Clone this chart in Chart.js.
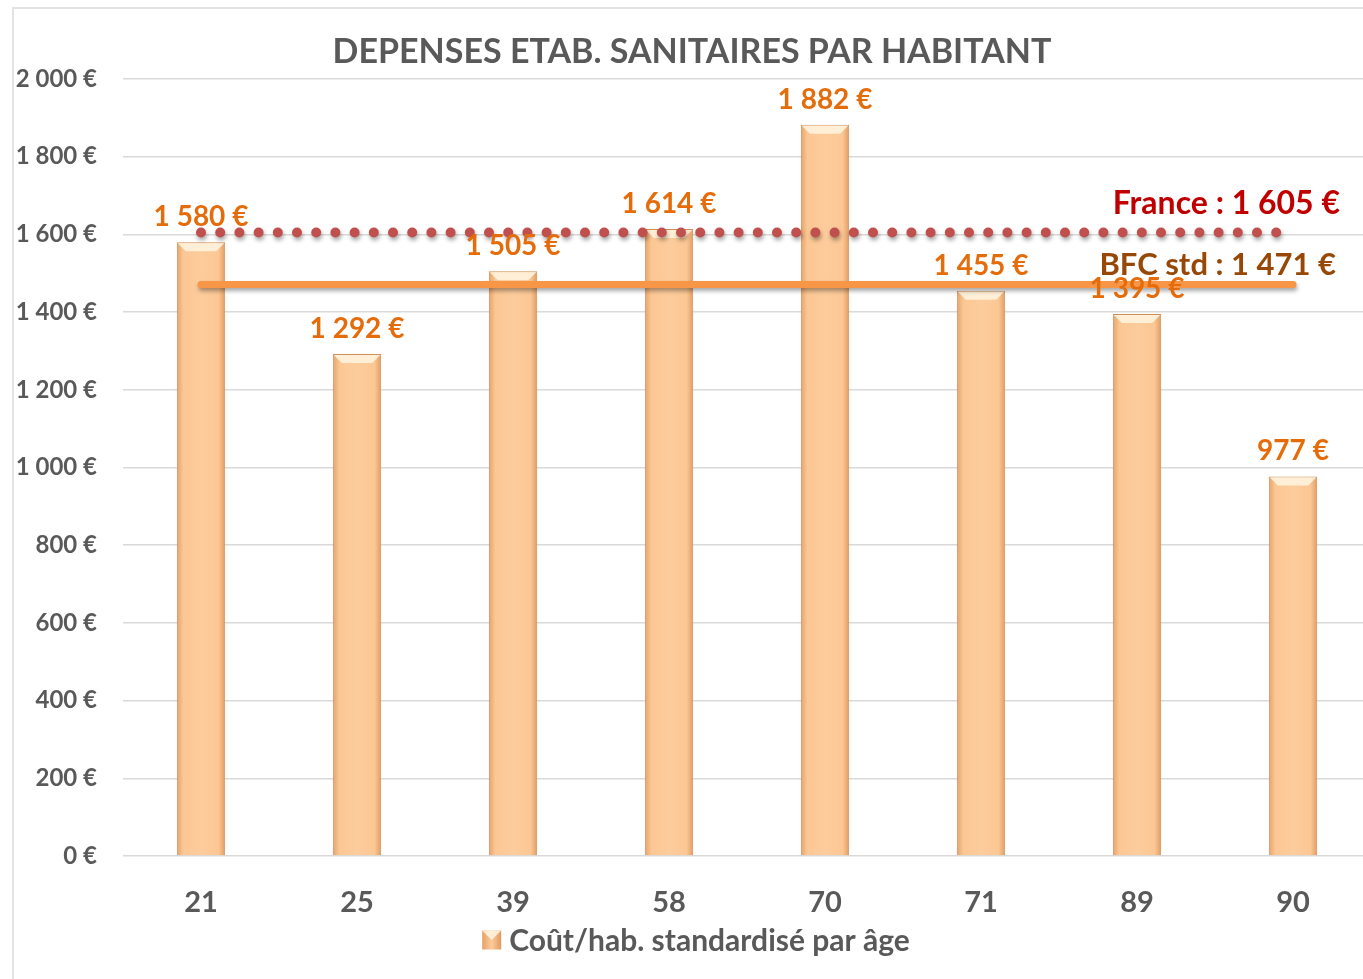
<!DOCTYPE html>
<html>
<head>
<meta charset="utf-8">
<script src="https://cdn.jsdelivr.net/npm/chart.js@4.4.1/dist/chart.umd.min.js"></script>
<style>
  html, body { margin: 0; padding: 0; overflow: hidden; background: #fff; }
  #frame { position: absolute; left: 12px; top: 7px; width: 1400px; height: 1000px; border: 2px solid #e3e3e3; box-sizing: border-box; }
  #chart { position: absolute; left: 0; top: 0; }
</style>
</head>
<body>
<div id="frame"></div>
<canvas id="chart" width="1371" height="979"></canvas>
<script>
const departements = ['21', '25', '39', '58', '70', '71', '89', '90'];
const coutParHabitant = [1580, 1292, 1505, 1614, 1882, 1455, 1395, 977];
const franceValue = 1605;
const bfcValue = 1471;
const yTicks = [0, 200, 400, 600, 800, 1000, 1200, 1400, 1600, 1800, 2000];

const FONT = 'Lato, "Open Sans", sans-serif';
const GRAY = '#595959';

function euro(n) {
  return n.toString().replace(/\B(?=(\d{3})+(?!\d))/g, ' ') + ' €';
}

function barFill(context) {
  const chart = context.chart;
  if (!chart.chartArea || !chart.scales.x) return '#fcc793';
  const x = chart.scales.x.getPixelForValue(context.dataIndex);
  const w = 49;
  const g = chart.ctx.createLinearGradient(x - w / 2, 0, x + w / 2, 0);
  g.addColorStop(0, '#e4a168');
  g.addColorStop(0.14, '#fbc794');
  g.addColorStop(0.5, '#fdcc9c');
  g.addColorStop(0.86, '#fbc794');
  g.addColorStop(1, '#e09a5f');
  return g;
}

// shadows under the reference lines
const lineShadow = {
  id: 'lineShadow',
  beforeDatasetDraw(chart, args) {
    if (args.meta.type !== 'line') return;
    const ctx = chart.ctx;
    ctx.save();
    ctx.shadowColor = 'rgba(0,0,0,0.35)';
    ctx.shadowBlur = 4;
    ctx.shadowOffsetY = 3;
    ctx.shadowOffsetX = 1;
  },
  afterDatasetDraw(chart, args) {
    if (args.meta.type !== 'line') return;
    chart.ctx.restore();
  }
};

// bevel at the top of each bar
const barBevel = {
  id: 'barBevel',
  afterDatasetDraw(chart, args) {
    if (args.meta.type !== 'bar') return;
    const ctx = chart.ctx;
    args.meta.data.forEach(el => {
      const l = el.x - el.width / 2 + 1, r = el.x + el.width / 2 - 1, t = el.y + 1;
      ctx.save();
      ctx.fillStyle = 'rgba(255,243,222,0.9)';
      ctx.beginPath();
      ctx.moveTo(l, t);
      ctx.lineTo(r, t);
      ctx.lineTo(r - 8, t + 8);
      ctx.lineTo(l + 8, t + 8);
      ctx.closePath();
      ctx.fill();
      ctx.restore();
    });
  }
};

const texts = {
  id: 'texts',
  afterDraw(chart) {
    const ctx = chart.ctx;
    const area = chart.chartArea;
    const y = chart.scales.y;
    const cx = 692;
    ctx.save();
    // title
    ctx.fillStyle = GRAY;
    ctx.font = 'bold 34px ' + FONT;
    ctx.textAlign = 'center';
    ctx.textBaseline = 'middle';
    ctx.fillText('DEPENSES ETAB. SANITAIRES PAR HABITANT', cx, 52);

    // value labels
    ctx.fillStyle = '#e46c0a';
    ctx.font = 'bold 28px ' + FONT;
    chart.getDatasetMeta(0).data.forEach((el, i) => {
      ctx.fillText(euro(coutParHabitant[i]), el.x, el.y - 25);
    });

    // reference line labels
    ctx.textAlign = 'right';
    ctx.font = 'bold 32px ' + FONT;
    ctx.fillStyle = '#c00000';
    ctx.fillText('France : ' + euro(franceValue), area.right - 31, y.getPixelForValue(franceValue) - 29);
    ctx.fillStyle = '#974806';
    ctx.font = 'bold 31px ' + FONT;
    ctx.fillText('BFC std : ' + euro(bfcValue), area.right - 35, y.getPixelForValue(bfcValue) - 20);

    // legend
    const label = chart.data.datasets[0].label;
    ctx.font = 'bold 30px ' + FONT;
    const tw = ctx.measureText(label).width;
    const sw = 19, gap = 8;
    const x0 = cx - (sw + gap + tw) / 2 + 4;
    const ly = 940;
    const g = ctx.createLinearGradient(x0, 0, x0 + sw, 0);
    g.addColorStop(0, '#e4a168');
    g.addColorStop(0.5, '#fdcc9c');
    g.addColorStop(1, '#e09a5f');
    ctx.fillStyle = g;
    ctx.fillRect(x0, ly - sw / 2, sw, sw);
    ctx.fillStyle = 'rgba(255,243,222,0.9)';
    ctx.beginPath();
    ctx.moveTo(x0, ly - sw / 2);
    ctx.lineTo(x0 + sw, ly - sw / 2);
    ctx.lineTo(x0 + sw / 2, ly);
    ctx.closePath();
    ctx.fill();
    ctx.fillStyle = GRAY;
    ctx.textAlign = 'left';
    ctx.fillText(label, x0 + sw + gap, ly + 1);
    ctx.restore();
  }
};

new Chart(document.getElementById('chart'), {
  type: 'bar',
  data: {
    labels: departements,
    datasets: [
      {
        type: 'bar',
        label: 'Coût/hab. standardisé par âge',
        data: coutParHabitant,
        backgroundColor: barFill,
        borderColor: '#d08f57',
        borderWidth: 1,
        barPercentage: 0.62,
        categoryPercentage: 0.5,
        order: 2
      },
      {
        type: 'line',
        label: 'France',
        data: departements.map(() => franceValue),
        borderColor: '#c0504d',
        borderWidth: 10,
        borderDash: [0, 19.2],
        borderCapStyle: 'round',
        pointRadius: 0,
        fill: false,
        order: 1
      },
      {
        type: 'line',
        label: 'BFC std',
        data: departements.map(() => bfcValue),
        borderColor: '#f79646',
        borderWidth: 7,
        borderCapStyle: 'round',
        pointRadius: 0,
        fill: false,
        order: 0
      }
    ]
  },
  options: {
    responsive: false,
    animation: false,
    layout: { padding: { top: 79, right: 0, bottom: 0, left: 0 } },
    plugins: {
      legend: { display: false },
      title: { display: false },
      tooltip: { enabled: false }
    },
    scales: {
      x: {
        grid: { display: false },
        border: { display: false },
        ticks: {
          color: GRAY,
          font: { family: FONT, size: 29, weight: 'bold' },
          padding: 21
        },
        afterFit(scale) { scale.height = 123; }
      },
      y: {
        min: 0,
        max: 2000,
        afterBuildTicks(scale) { scale.ticks = yTicks.map(v => ({ value: v })); },
        grid: { color: '#d9d9d9', lineWidth: 1.5, drawTicks: false },
        border: { display: false },
        ticks: {
          color: GRAY,
          font: { family: FONT, size: 24, weight: 'bold' },
          padding: 26,
          callback: v => euro(v)
        },
        afterFit(scale) { scale.width = 123; }
      }
    }
  },
  plugins: [lineShadow, barBevel, texts]
});
</script>
</body>
</html>
